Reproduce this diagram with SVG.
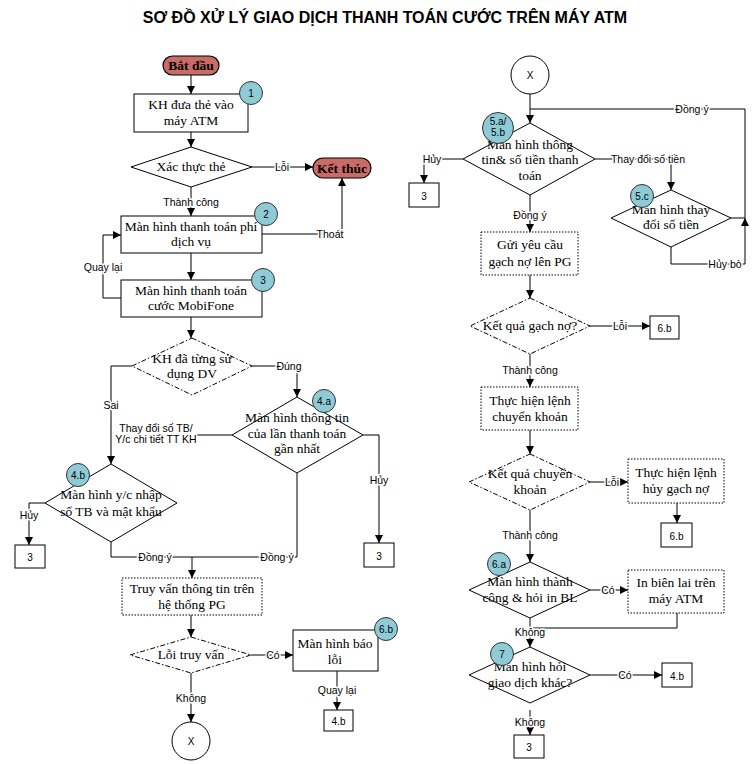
<svg xmlns="http://www.w3.org/2000/svg" width="756" height="764" viewBox="0 0 756 764">
<style>
.n{fill:#fff;stroke:#000;stroke-width:1}
.dt{fill:#fff;stroke:#000;stroke-width:1;stroke-dasharray:1.5 1.5}
.dd{fill:#fff;stroke:#000;stroke-width:1;stroke-dasharray:5 2 1.5 2}
.term{fill:#c96b66;stroke:#000;stroke-width:1.2}
.bd{fill:#8fcbd7;stroke:#333;stroke-width:1}
.t{font-family:"Liberation Serif","Times New Roman",serif;font-size:13.5px;text-anchor:middle;fill:#000}
.tb{font-family:"Liberation Serif","Times New Roman",serif;font-size:13.5px;font-weight:bold;text-anchor:middle;fill:#000}
.s{font-family:"Liberation Sans",Arial,sans-serif;font-size:10px;text-anchor:middle;fill:#000}
.b{font-family:"Liberation Sans",Arial,sans-serif;font-size:10px;text-anchor:middle;fill:#000}
.c path{fill:none;stroke:#000;stroke-width:1}
.l{font-family:"Liberation Sans",Arial,sans-serif;font-size:10.5px;text-anchor:middle;fill:#000;stroke:#fff;stroke-width:3;paint-order:stroke;stroke-linejoin:round}
</style>
<defs>
<marker id="a" viewBox="0 0 10 10" refX="10" refY="5" markerWidth="8" markerHeight="8" markerUnits="userSpaceOnUse" orient="auto">
<path d="M0,0 L10,5 L0,10 z" fill="#000"/>
</marker>
</defs>
<rect width="756" height="764" fill="#fff"/>
<text x="385" y="23" font-family="Liberation Sans, Arial, sans-serif" font-size="16" font-weight="bold" text-anchor="middle">SƠ ĐỒ XỬ LÝ GIAO DỊCH THANH TOÁN CƯỚC TRÊN MÁY ATM</text>

<g id="connectors" class="c">
<path d="M191,75 V94" marker-end="url(#a)"/>
<path d="M191,132 V147" marker-end="url(#a)"/>
<path d="M252,167 H313" marker-end="url(#a)"/>
<path d="M191,187 V216" marker-end="url(#a)"/>
<path d="M262,234 H342 V178" marker-end="url(#a)"/>
<path d="M191,253 V280" marker-end="url(#a)"/>
<path d="M121,298 H103 V235 H121" marker-end="url(#a)"/>
<path d="M191,317 V338" marker-end="url(#a)"/>
<path d="M252,366 H297 V397" marker-end="url(#a)"/>
<path d="M132,366 H111 V464" marker-end="url(#a)"/>
<path d="M232,435 H197"/>
<path d="M363,435 H379 V543" marker-end="url(#a)"/>
<path d="M297,473 V557 H192"/>
<path d="M111,542 V557 H192"/>
<path d="M192,557 V578" marker-end="url(#a)"/>
<path d="M45,503 H29 V545" marker-end="url(#a)"/>
<path d="M191,615 V637" marker-end="url(#a)"/>
<path d="M251,655 H293" marker-end="url(#a)"/>
<path d="M337,671 V710" marker-end="url(#a)"/>
<path d="M191,673 V722" marker-end="url(#a)"/>
<path d="M530,94 V123" marker-end="url(#a)"/>
<path d="M731,218 H745 V109 H530"/>
<path d="M671,247 V264 H745 V218" marker-end="url(#a)"/>
<path d="M463,159 H424 V183" marker-end="url(#a)"/>
<path d="M595,159 H671 V190" marker-end="url(#a)"/>
<path d="M530,195 V232" marker-end="url(#a)"/>
<path d="M530,275 V298" marker-end="url(#a)"/>
<path d="M590,326 H650" marker-end="url(#a)"/>
<path d="M530,354 V387" marker-end="url(#a)"/>
<path d="M530,430 V454" marker-end="url(#a)"/>
<path d="M590,482 H628" marker-end="url(#a)"/>
<path d="M677,503 V523" marker-end="url(#a)"/>
<path d="M530,510 V562" marker-end="url(#a)"/>
<path d="M590,590 H628" marker-end="url(#a)"/>
<path d="M677,613 V628 H530"/>
<path d="M530,618 V647" marker-end="url(#a)"/>
<path d="M590,675 H662" marker-end="url(#a)"/>
<path d="M530,710 V735" marker-end="url(#a)"/>
<text class="l" x="282" y="170.5">Lỗi</text>
<text class="l" x="191" y="205.5">Thành công</text>
<text class="l" x="330" y="237.5">Thoát</text>
<text class="l" x="103" y="270.5">Quay lại</text>
<text class="l" x="289" y="369.5">Đúng</text>
<text class="l" x="111" y="408.5">Sai</text>
<text class="l" x="156" y="431.5">Thay đổi số TB/</text>
<text class="l" x="156" y="442.5">Y/c chi tiết TT KH</text>
<text class="l" x="379" y="483.5">Hủy</text>
<text class="l" x="277" y="560.5">Đồng ý</text>
<text class="l" x="155" y="560.5">Đồng ý</text>
<text class="l" x="29" y="518.5">Hủy</text>
<text class="l" x="273" y="658.5">Có</text>
<text class="l" x="337" y="693.5">Quay lại</text>
<text class="l" x="191" y="701.5">Không</text>
<text class="l" x="692" y="112.5">Đồng ý</text>
<text class="l" x="725" y="267.5">Hủy bò</text>
<text class="l" x="432" y="162.5">Hủy</text>
<text class="l" x="648" y="162.5">Thay đổi số tiền</text>
<text class="l" x="530" y="218.5">Đồng ý</text>
<text class="l" x="620" y="329.5">Lỗi</text>
<text class="l" x="530" y="373.5">Thành công</text>
<text class="l" x="612" y="485.5">Lỗi</text>
<text class="l" x="530" y="538.5">Thành công</text>
<text class="l" x="608" y="593.5">Có</text>
<text class="l" x="530" y="635.5">Không</text>
<text class="l" x="625" y="678.5">Có</text>
<text class="l" x="530" y="725.5">Không</text>
</g>

<g id="start"><rect class="term" x="163" y="56" width="56" height="19" rx="9.5"/><text class="tb" x="191" y="70">Bắt đầu</text></g>
<g id="end"><rect class="term" x="313" y="158" width="58" height="20" rx="10"/><text class="tb" x="342" y="172.5">Kết thúc</text></g>

<g id="n1"><rect class="n" x="134" y="94" width="114" height="38"/><text class="t" x="191" y="109">KH đưa thẻ vào</text><text class="t" x="191" y="125">máy ATM</text>
<circle class="bd" cx="251" cy="93" r="11.5"/><text class="b" x="251" y="96.5">1</text></g>

<g id="xacthuc"><path class="n" d="M191,147 L252,167 L191,187 L131,167 Z"/><text class="t" x="191" y="171">Xác thực thẻ</text></g>

<g id="n2"><rect class="n" x="121" y="216" width="141" height="37"/><text class="t" x="191" y="231">Màn hình thanh toán phí</text><text class="t" x="191" y="246">dịch vụ</text>
<circle class="bd" cx="266" cy="214" r="11.5"/><text class="b" x="266" y="217.5">2</text></g>

<g id="n3"><rect class="n" x="121" y="280" width="141" height="37"/><text class="t" x="191" y="295">Màn hình thanh toán</text><text class="t" x="191" y="310">cước MobiFone</text>
<circle class="bd" cx="263" cy="280" r="11.5"/><text class="b" x="263" y="283.5">3</text></g>

<g id="dasudung"><path class="dd" d="M192,338 L252,366 L192,395 L132,366 Z"/><text class="t" x="192" y="363">KH đã từng sử</text><text class="t" x="192" y="378">dụng DV</text></g>

<g id="n4a"><path class="n" d="M297,397 L363,435 L297,473 L232,435 Z"/><text class="t" x="297" y="422">Màn hình thông tin</text><text class="t" x="297" y="438">của lần thanh toán</text><text class="t" x="297" y="453">gần nhất</text>
<circle class="bd" cx="324" cy="401" r="11.5"/><text class="b" x="324" y="404.5">4.a</text></g>

<g id="n4b"><path class="n" d="M111,464 L177,503 L111,542 L45,503 Z"/><text class="t" x="111" y="499">Màn hình y/c nhập</text><text class="t" x="111" y="516">số TB và mật khẩu</text>
<circle class="bd" cx="78" cy="475" r="11.5"/><text class="b" x="78" y="478.5">4.b</text></g>

<g id="ref3a"><rect class="n" x="15" y="545" width="30" height="23"/><text class="s" x="30" y="561" font-size="12">3</text></g>
<g id="ref3b"><rect class="n" x="364" y="543" width="30" height="24"/><text class="s" x="379" y="559.5" font-size="12">3</text></g>

<g id="truyvan"><rect class="dt" x="122" y="578" width="140" height="37"/><text class="t" x="192" y="593">Truy vấn thông tin trên</text><text class="t" x="192" y="609">hệ thống PG</text></g>

<g id="loitruyvan"><path class="dd" d="M191,637 L251,655 L191,673 L130,655 Z"/><text class="t" x="191" y="659">Lỗi truy vấn</text></g>

<g id="n6b"><rect class="n" x="293" y="630" width="85" height="41"/><text class="t" x="335" y="648">Màn hình báo</text><text class="t" x="335" y="664">lỗi</text>
<circle class="bd" cx="386" cy="629" r="11.5"/><text class="b" x="386" y="632.5">6.b</text></g>

<g id="ref4b1"><rect class="n" x="324" y="710" width="29" height="21"/><text class="s" x="338.5" y="725" font-size="12">4.b</text></g>

<g id="x1"><circle class="n" cx="191" cy="741" r="19"/><text class="s" x="191" y="745" font-size="11">X</text></g>

<g id="x2"><circle class="n" cx="530" cy="75" r="19"/><text class="s" x="530" y="79" font-size="11">X</text></g>

<g id="n5ab"><path class="n" d="M530,123 L595,159 L530,195 L463,159 Z"/><text class="t" x="530" y="149">Màn hình thông</text><text class="t" x="530" y="164">tin&amp; số tiền thanh</text><text class="t" x="530" y="180">toán</text>
<circle class="bd" cx="498" cy="128" r="15.5"/><text class="b" x="498" y="125">5.a/</text><text class="b" x="498" y="136">5.b</text></g>

<g id="ref3c"><rect class="n" x="409" y="183" width="30" height="24"/><text class="s" x="424" y="199.5" font-size="12">3</text></g>

<g id="n5c"><path class="n" d="M671,190 L731,218 L671,247 L611,218 Z"/><text class="t" x="671" y="214">Màn hình thay</text><text class="t" x="671" y="229">đổi số tiền</text>
<circle class="bd" cx="642" cy="196" r="11.5"/><text class="b" x="642" y="199.5">5.c</text></g>

<g id="guiyeucau"><rect class="dt" x="481" y="232" width="97" height="43"/><text class="t" x="530" y="249">Gửi yêu cầu</text><text class="t" x="530" y="266">gạch nợ lên PG</text></g>

<g id="kqgachno"><path class="dd" d="M530,298 L590,326 L530,354 L470,326 Z"/><text class="t" x="530" y="330">Kết quả gạch nợ?</text></g>

<g id="ref6b1"><rect class="n" x="650" y="316" width="29" height="23"/><text class="s" x="664.5" y="331.5" font-size="12">6.b</text></g>

<g id="chuyenkhoan"><rect class="dt" x="481" y="387" width="97" height="43"/><text class="t" x="530" y="405">Thực hiện lệnh</text><text class="t" x="530" y="421">chuyển khoản</text></g>

<g id="kqchuyenkhoan"><path class="dd" d="M530,454 L590,482 L530,510 L469,482 Z"/><text class="t" x="530" y="478">Kết quả chuyển</text><text class="t" x="530" y="494">khoản</text></g>

<g id="huygachno"><rect class="dt" x="628" y="459" width="96" height="44"/><text class="t" x="676" y="477">Thực hiện lệnh</text><text class="t" x="676" y="493">hủy gạch nợ</text></g>

<g id="ref6b2"><rect class="n" x="661" y="523" width="31" height="24"/><text class="s" x="676.5" y="539.5" font-size="12">6.b</text></g>

<g id="n6a"><path class="n" d="M530,562 L590,590 L530,618 L469,590 Z"/><text class="t" x="530" y="586">Màn hình thành</text><text class="t" x="530" y="602">công &amp; hỏi in BL</text>
<circle class="bd" cx="499" cy="564" r="11.5"/><text class="b" x="499" y="567.5">6.a</text></g>

<g id="inbienlai"><rect class="dt" x="628" y="570" width="96" height="43"/><text class="t" x="676" y="587">In biên lai trên</text><text class="t" x="676" y="603">máy ATM</text></g>

<g id="n7"><path class="n" d="M530,647 L590,675 L530,703 L469,675 Z"/><text class="t" x="530" y="671">Màn hình hỏi</text><text class="t" x="530" y="687">giao dịch khác?</text>
<circle class="bd" cx="502" cy="654" r="11.5"/><text class="b" x="502" y="657.5">7</text></g>

<g id="ref4b2"><rect class="n" x="662" y="663" width="30" height="24"/><text class="s" x="677" y="679.5" font-size="12">4.b</text></g>

<g id="ref3d"><rect class="n" x="514" y="735" width="30" height="23"/><text class="s" x="529" y="751" font-size="12">3</text></g>
</svg>
